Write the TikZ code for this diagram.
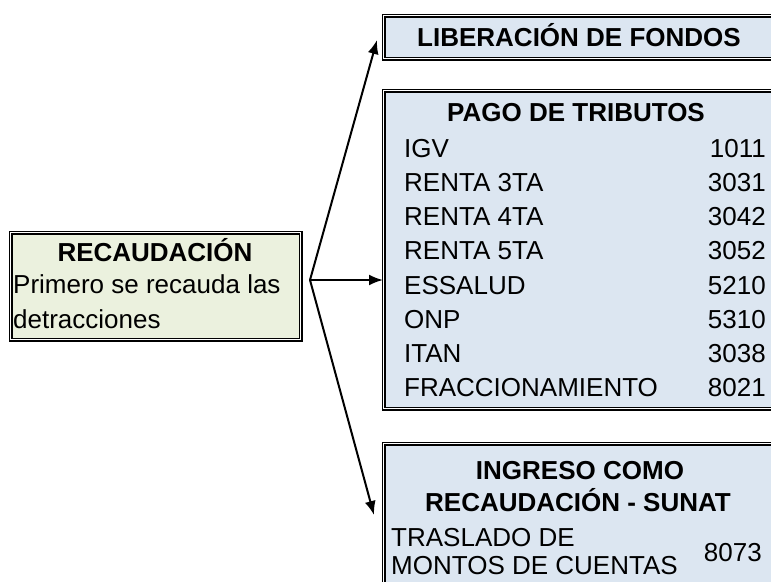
\documentclass[tikz,border=0pt]{standalone}
\usepackage{fontspec}
\setmainfont{Liberation Sans}
\usetikzlibrary{arrows.meta}
\definecolor{boxgreen}{HTML}{EBF1DE}
\definecolor{boxblue}{HTML}{DCE6F1}
\tikzset{
	dblbox/.style={draw=black, line width=1.3pt, double=white, double distance=1.5pt, inner sep=0pt, anchor=north west},
	greenbox/.style={dblbox, fill=boxgreen},
	bluebox/.style={dblbox, fill=boxblue},
	txt/.style={inner sep=0pt, text height=18.6pt, text depth=0pt, font=\fontsize{26}{30}\selectfont},
	head/.style={txt, font=\fontsize{26}{30}\selectfont\bfseries},
	flecha/.style={line width=2pt, -{Latex[length=14pt,width=11pt]}}
}

\begin{document}
\begin{tikzpicture}[x=1pt, y=-1pt]
		%%%%% START %%%%%
		\useasboundingbox (0, 0) rectangle (771, 581);
		\clip (0, 0) rectangle (771, 581);
		
		\node[greenbox, minimum width=290pt, minimum height=107pt] (recaud) at (10, 232) {};
		\node[head] (trecaud) at (155, 252) {RECAUDACIÓN};
		\node[txt, anchor=west] (primero) at (13, 284) {Primero se recauda las};
		\node[txt, anchor=west] (detrac) at (13, 319) {detracciones};
		
		\node[bluebox, minimum width=420pt, minimum height=43pt] (lib) at (383, 15) {};
		\node[head] (tlib) at (579, 37) {LIBERACIÓN DE FONDOS};
		
		\node[bluebox, minimum width=420pt, minimum height=318pt] (pago) at (383, 90) {};
		\node[head] (tpago) at (576, 112) {PAGO DE TRIBUTOS};
		\node[txt, anchor=west] (igv) at (404, 148) {IGV};
		\node[txt, anchor=east] (nigv) at (766, 148) {1011};
		\node[txt, anchor=west] (r3) at (404, 182) {RENTA 3TA};
		\node[txt, anchor=east] (nr3) at (766, 182) {3031};
		\node[txt, anchor=west] (r4) at (404, 216) {RENTA 4TA};
		\node[txt, anchor=east] (nr4) at (766, 216) {3042};
		\node[txt, anchor=west] (r5) at (404, 250) {RENTA 5TA};
		\node[txt, anchor=east] (nr5) at (766, 250) {3052};
		\node[txt, anchor=west] (essalud) at (404, 285) {ESSALUD};
		\node[txt, anchor=east] (nessalud) at (766, 285) {5210};
		\node[txt, anchor=west] (onp) at (404, 319) {ONP};
		\node[txt, anchor=east] (nonp) at (766, 319) {5310};
		\node[txt, anchor=west] (itan) at (404, 353) {ITAN};
		\node[txt, anchor=east] (nitan) at (766, 353) {3038};
		\node[txt, anchor=west] (fracc) at (404, 387) {FRACCIONAMIENTO};
		\node[txt, anchor=east] (nfracc) at (766, 387) {8021};
		
		\node[bluebox, minimum width=420pt, minimum height=160pt] (ingreso) at (383, 443) {};
		\node[head] (ting1) at (580, 470) {INGRESO COMO};
		\node[head] (ting2) at (578, 502) {RECAUDACIÓN - SUNAT};
		\node[txt, anchor=west] (trasl1) at (391, 537) {TRASLADO DE};
		\node[txt, anchor=west] (trasl2) at (391, 565) {MONTOS DE CUENTAS};
		\node[txt, anchor=east] (ntrasl) at (762, 552) {8073};
		
		\coordinate (branch) at (310, 280);
		\coordinate (libtip) at (377, 40);
		\coordinate (ingtip) at (374, 515);
		\draw[flecha] (branch) -- (libtip);
		\draw[flecha] (branch) -- (branch -| pago.west);
		\draw[flecha] (branch) -- (ingtip);
		
		%%%%% END %%%%%
	\end{tikzpicture}
\end{document}
